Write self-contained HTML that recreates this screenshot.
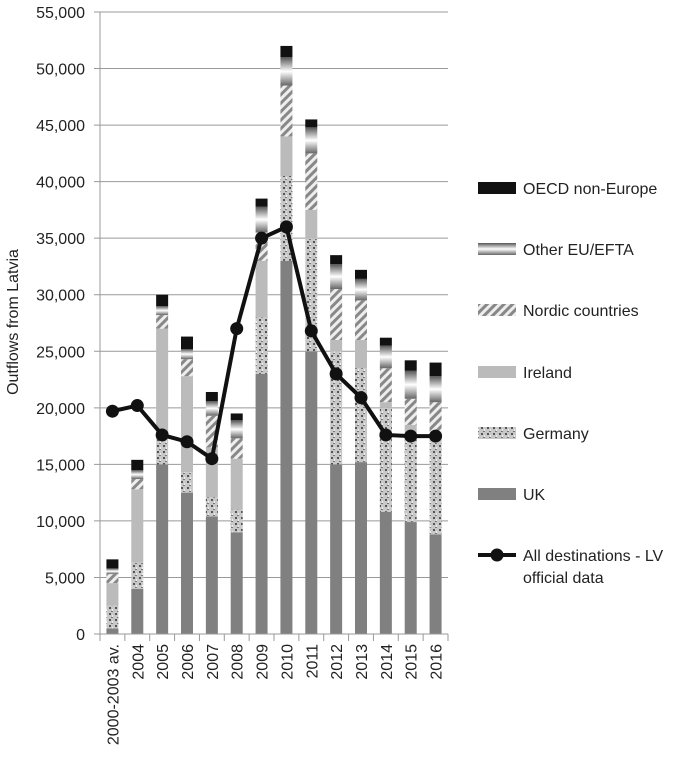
<!DOCTYPE html>
<html><head><meta charset="utf-8"><style>
body{margin:0;background:#fff;font-family:"Liberation Sans",sans-serif;}
svg text{font-family:"Liberation Sans",sans-serif;fill:#222;}
</style></head><body>
<svg id="c" width="685" height="765">
<defs>
<pattern id="pGer" width="6" height="6" patternUnits="userSpaceOnUse">
<rect width="6" height="6" fill="#c8c8c8"/><rect x="1" y="1" width="2" height="2" fill="#555"/><rect x="4" y="3" width="1" height="2" fill="#eee"/><rect x="3" y="5" width="2" height="1" fill="#777"/></pattern>
<pattern id="pNor" width="6" height="6" patternUnits="userSpaceOnUse" patternTransform="rotate(45)">
<rect width="6" height="6" fill="#eee"/><rect width="3" height="6" fill="#888"/></pattern>
<linearGradient id="gOth" x1="0" y1="0" x2="0" y2="1"><stop offset="0" stop-color="#555"/><stop offset="0.5" stop-color="#fff"/><stop offset="1" stop-color="#666"/></linearGradient>
</defs>
<g id="grid"></g><g id="bars"></g><g id="line"></g><g id="axes"></g><g id="legend"></g>
<text transform="translate(18,322) rotate(-90)" text-anchor="middle" font-size="16">Outflows from Latvia</text>
</svg>
<script>
const categories=["2000-2003 av.","2004","2005","2006","2007","2008","2009","2010","2011","2012","2013","2014","2015","2016"];
const uk=[500,4000,15000,12500,10400,9000,23000,33000,25000,15000,15200,10800,9900,8800];
const germany=[2000,2300,2500,1800,1700,2000,5000,7500,10000,10000,8300,9200,7300,8200];
const ireland=[2000,6500,9500,8500,4400,4500,5000,3500,2500,1000,2500,500,1300,800];
const nordic=[800,900,1200,1500,2800,1800,2500,4500,5000,4500,3500,3000,2300,2700];
const otherEU=[500,800,800,900,1300,1600,2300,2500,2300,2200,1900,2000,2500,2300];
const oecd=[800,900,1000,1100,800,600,700,1000,700,800,800,700,900,1200];
const allDest=[19700,20200,17600,17000,15500,27000,35000,36000,26800,23000,20900,17600,17500,17500];
const yTicks=[0,5000,10000,15000,20000,25000,30000,35000,40000,45000,50000,55000];
const seriesNames=["UK","Germany","Ireland","Nordic countries","Other EU/EFTA","OECD non-Europe"];
const NS="http://www.w3.org/2000/svg";
const X0=100,X1=448,Y0=634,Y1=12,YMAX=55000;
const bw=(X1-X0)/categories.length;
const y=v=>Y0-(v/YMAX)*(Y0-Y1);
const xc=i=>X0+bw*(i+0.5);
function mk(t,a,p){const e=document.createElementNS(NS,t);for(const k in a)e.setAttribute(k,a[k]);p.appendChild(e);return e;}
const G=document.getElementById('grid'),B=document.getElementById('bars'),L=document.getElementById('line'),A=document.getElementById('axes'),LG=document.getElementById('legend');
yTicks.forEach(v=>{
 const g=mk('line',{x1:X0-6,x2:X1,y1:y(v),y2:y(v),stroke:'#999','stroke-width':1},G);
 
 
 const t=mk('text',{x:85,y:y(v)+6,'text-anchor':'end','font-size':16},A);
 t.textContent=v.toLocaleString('en-US');
 
 
});
mk('line',{x1:X0,x2:X0,y1:Y1,y2:Y0,stroke:'#999'},A);
const fills=["#808080","url(#pGer)","#bbbbbb","url(#pNor)","url(#gOth)","#111"];
const series=[uk,germany,ireland,nordic,otherEU,oecd];
categories.forEach((c,i)=>{
 let cum=0;
 series.forEach((s,k)=>{
  const r=mk('rect',{x:xc(i)-6,width:12,y:y(cum+s[i]),height:y(cum)-y(cum+s[i]),fill:fills[k]},B);
  
  
  cum+=s[i];
 });
 const tk=mk('line',{x1:X0+bw*i,x2:X0+bw*i,y1:Y0,y2:Y0+7,stroke:'#999'},A);
 const t=mk('text',{transform:`translate(${xc(i)+6},${Y0+10}) rotate(-90)`,'text-anchor':'end','font-size':16},A);
 t.textContent=c;
 
 
});
mk('line',{x1:X1,x2:X1,y1:Y0,y2:Y0+7,stroke:'#999'},A);
mk('line',{x1:X0,x2:X1,y1:Y0,y2:Y0,stroke:'#999'},A);
const pl=mk('polyline',{points:allDest.map((v,i)=>xc(i)+','+y(v)).join(' '),fill:'none',stroke:'#111','stroke-width':4},L);


allDest.forEach((v,i)=>{
 const p=mk('circle',{cx:xc(i),cy:y(v),r:6.5,fill:'#111'},L);
 
 
});
const legY=[188,249,310,372,433,494];
for(let k=5;k>=0;k--){
 const yy=legY[5-k];
 const r=mk('rect',{x:478,y:yy-6,width:38,height:12,fill:fills[k]},LG);
 
 
 const t=mk('text',{x:523,y:yy+6,'font-size':16},LG);
 t.textContent=seriesNames[k];
 
 
}
mk('line',{x1:478,x2:516,y1:555,y2:555,stroke:'#111','stroke-width':4},LG);
mk('circle',{cx:497,cy:555,r:6.5,fill:'#111'},LG);
const t1=mk('text',{x:523,y:561,'font-size':16},LG);t1.textContent="All destinations - LV";


const t2=mk('text',{x:523,y:583,'font-size':16},LG);t2.textContent="official data";


</script>
</body></html>
